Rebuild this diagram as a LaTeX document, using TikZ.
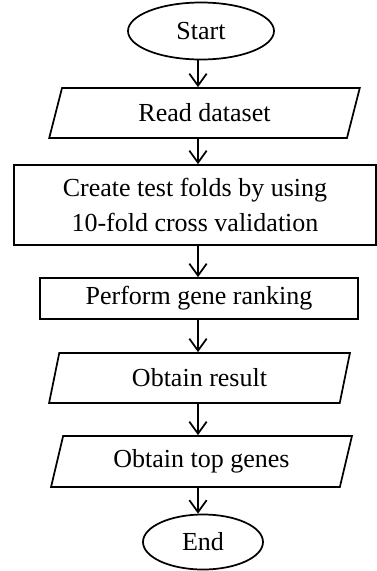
\documentclass[tikz,border=0pt]{standalone}
\usepackage{fontspec}
\setmainfont{Liberation Serif}
\usetikzlibrary{shapes.geometric,arrows.meta}

\tikzset{every picture/.style={line width=1.3pt}}
\tikzset{
	terminal/.style={draw, ellipse, inner sep=0pt},
	process/.style={draw, rectangle, inner sep=0pt, align=center},
	io/.style={draw, trapezium, trapezium left angle=72, trapezium right angle=108, trapezium stretches=true, inner sep=0pt},
	flow/.style={-{Straight Barb[length=9pt,width=13pt]}}
}

\begin{document}
\begin{tikzpicture}[x=0.75pt,y=0.75pt,yscale=-1,xscale=1,font=\fontsize{19.5}{26.25}\selectfont]
	\useasboundingbox (0,0) rectangle (377,571);

	%Terminal [id:start]
	\node [terminal, minimum width=109.5pt, minimum height=42.75pt] (start) at (201,31) {Start};
	%Data [id:read]
	\node [io, minimum width=233.25pt, minimum height=37.5pt] (read) at (204.5,113) {Read dataset};
	%Process [id:folds]
	\node [process, minimum width=271.5pt, minimum height=60pt] (folds) at (195,205) {Create test folds by using\\10-fold cross validation};
	%Process [id:rank]
	\node [process, minimum width=238.5pt, minimum height=30.75pt] (rank) at (199,298.5) {Perform gene ranking};
	%Data [id:result]
	\node [io, trapezium left angle=75, trapezium right angle=105, minimum width=225.75pt, minimum height=37.5pt] (result) at (199.5,378) {Obtain result};
	%Data [id:top]
	\node [io, minimum width=225.75pt, minimum height=38.25pt] (top) at (201.5,461.5) {Obtain top genes};
	%Terminal [id:end]
	\node [terminal, minimum width=90pt, minimum height=41.25pt] (end) at (203,542) {End};

	% Connectors
	\coordinate (axis) at (198,0);
	\draw [flow] (axis |- start.south) -- (axis |- read.north);
	\draw [flow] (axis |- read.south) -- (axis |- folds.north);
	\draw [flow] (axis |- folds.south) -- (axis |- rank.north);
	\draw [flow] (axis |- rank.south) -- (axis |- result.north);
	\draw [flow] (axis |- result.south) -- (axis |- top.north);
	\draw [flow] (axis |- top.south) -- (axis |- end.north);

\end{tikzpicture}
\end{document}
